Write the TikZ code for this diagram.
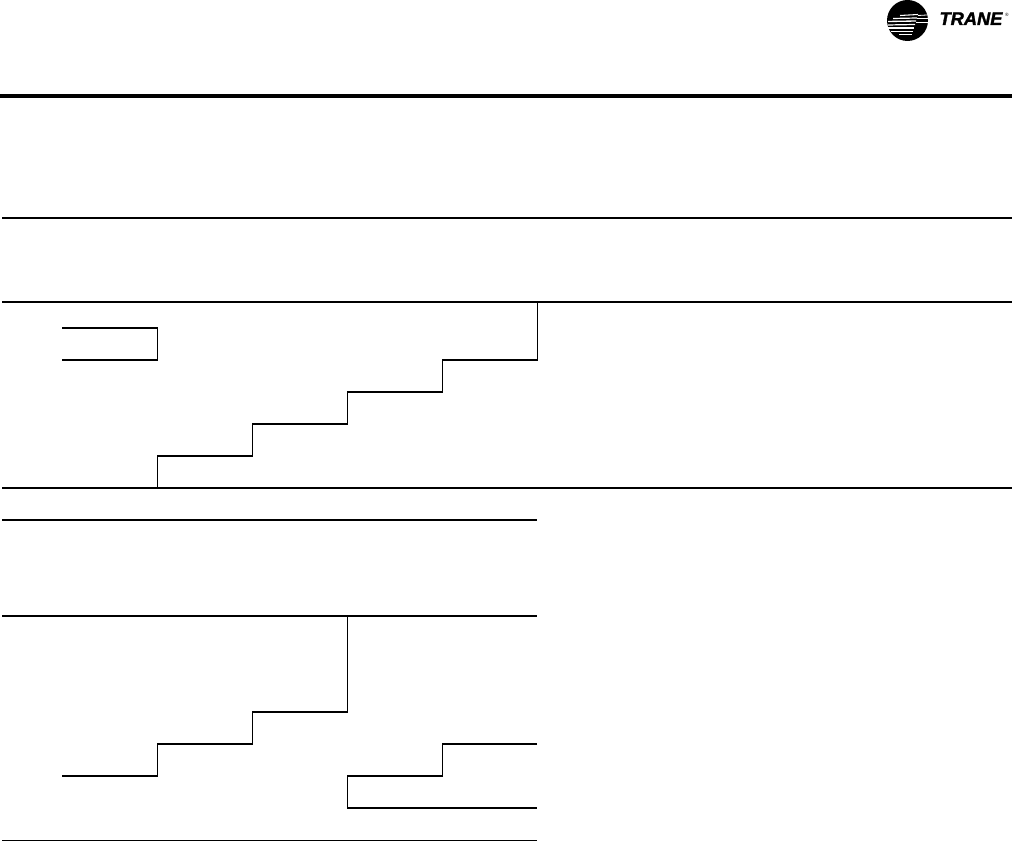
\documentclass[tikz,border=0pt]{standalone}
\usepackage{fontspec}
\setsansfont{Liberation Sans}
\newfontfamily\brandfont[FakeBold=1.6]{Liberation Sans Bold Italic}
\tikzset{
  rulethick/.style={draw=black,line width=3pt},
  rulethin/.style={draw=black,line width=1.35pt},
  rulefoot/.style={draw=black,line width=.8pt},
  stepline/.style={draw=black,line width=1.3pt},
  steprise/.style={draw=black,line width=.8pt},
  stripe/.style={draw=white,line width=.6pt},
}
\begin{document}
\begin{tikzpicture}[x=.75pt,y=-.75pt]
\path[use as bounding box] (0,0) rectangle (1012,841);
\fill[black] (907.5,20.5) circle (20.5);
\draw[stripe,line width=.8pt] (900,15.5) -- (918,14.5);
\draw[stripe] (918,15.5) -- (927,15);
\draw[stripe,line width=.9pt] (893,18.5) -- (917,18);
\draw[stripe] (917,18.5) -- (928,18.5);
\draw[stripe,line width=1pt] (888,21.5) -- (916,21);
\draw[stripe] (916,22) -- (927.5,22);
\draw[stripe,line width=.9pt] (887.5,25) -- (915,24.5);
\draw[stripe,line width=.9pt] (888,28) -- (914,28);
\draw[stripe,line width=.7pt] (891,31) -- (913,31);
\draw[stripe] (899,34.5) -- (912,34.5);
\node[inner sep=0pt,outer sep=0pt,anchor=base west,font=\brandfont\fontsize{13.7}{16}\selectfont] (brand) at (939.5,25) {TRANE};
\node[inner sep=0pt,outer sep=0pt,anchor=base west,font=\sffamily\fontsize{3.5}{4}\selectfont] (regmark) at (1005,16.5) {®};
\draw[rulethick] (0,96) -- (1012,96);
\draw[rulethin] (2,218) -- (1012,218);
\draw[rulethin] (2,302) -- (1012,302);
\draw[rulethin] (2,488) -- (1012,488);
\draw[rulethin] (2,520) -- (537,520);
\draw[rulethin] (2,616) -- (537,616);
\draw[rulefoot] (2,840.5) -- (537,840.5);
% upper table
\draw[stepline] (62,328) -- (158,328);
\draw[stepline] (62,360) -- (158,360);
\draw[steprise] (157.5,327.5) -- (157.5,360.5);
\draw[steprise] (157.5,488) -- (157.5,455.5);
\draw[stepline] (157,456) -- (253,456);
\draw[steprise] (252.5,456.5) -- (252.5,423.5);
\draw[stepline] (252,424) -- (348,424);
\draw[steprise] (347.5,424.5) -- (347.5,391.5);
\draw[stepline] (347,392) -- (443,392);
\draw[steprise] (442.5,392.5) -- (442.5,359.5);
\draw[stepline] (442,360) -- (538,360);
\draw[steprise] (537.5,360.5) -- (537.5,302);
% lower table
\draw[stepline] (62,776) -- (158,776);
\draw[steprise] (157.5,776.5) -- (157.5,743.5);
\draw[stepline] (157,744) -- (253,744);
\draw[steprise] (252.5,744.5) -- (252.5,711.5);
\draw[stepline] (252,712) -- (348,712);
\draw[steprise] (347.5,712.5) -- (347.5,616);
\draw[stepline] (537,744) -- (442,744);
\draw[steprise] (442.5,743.5) -- (442.5,776.5);
\draw[stepline] (443,776) -- (347,776);
\draw[steprise] (347.5,775.5) -- (347.5,808.5);
\draw[stepline] (347,808) -- (537,808);
\end{tikzpicture}
\end{document}
